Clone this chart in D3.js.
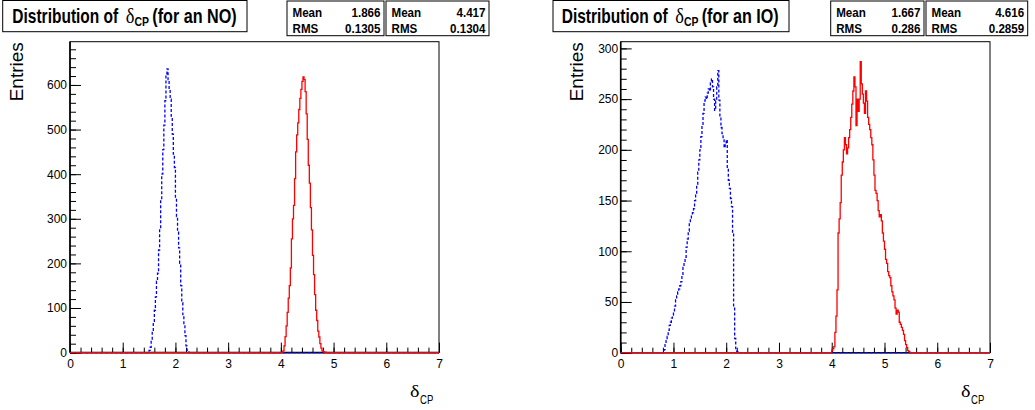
<!DOCTYPE html>
<html><head><meta charset="utf-8">
<script src="https://cdn.jsdelivr.net/npm/d3@7"></script>
<style>body{margin:0;background:#fff}svg{display:block}</style>
</head><body>
<svg id="c" width="1035" height="410"></svg>
<script>
const SANS = '"Liberation Sans", Arial, Helvetica, sans-serif';
const SERIF = '"Liberation Serif", "Times New Roman", serif';

// ---- data ----
const binWidth = 0.02;
const xDomain = [0, 7];
const xTicks = [0, 1, 2, 3, 4, 5, 6, 7];
const yTicksNO = [0, 100, 200, 300, 400, 500, 600];
const yTicksIO = [0, 50, 100, 150, 200, 250, 300];
const yMaxNO = 697;
const yMaxIO = 306.6;
const titleNO = ["Distribution of", "\u03b4", "CP", "(for an NO)"];
const titleIO = ["Distribution of", "\u03b4", "CP", "(for an IO)"];
const statLabels = ["Mean", "RMS"];
const statsNO = [["1.866", "0.1305"], ["4.417", "0.1304"]];
const statsIO = [["1.667", "0.286"], ["4.616", "0.2859"]];
const yLabel = "Entries";
const xLabel = ["\u03b4", "CP"];

const noBlueStart = 1.48;
const noBlue = [2,5,12,28,50,70,95,125,160,178,230,280,340,400,455,510,565,625,636,612,
  590,568,530,490,445,415,345,305,270,235,200,150,112,85,60,38,15,5,1];
const noRedStart = 4.02;
const noRed = [1,4,15,36,60,90,122,150,190,255,300,330,390,450,488,515,545,570,590,608,
  618,612,585,535,478,420,380,325,275,218,175,130,95,72,48,35,20,10,4,2,0,1];
const ioBlueStart = 0.80;
const ioBlue = [1,3,8,12,16,22,27,30,34,37,40,46,52,56,60,63,66,70,76,84,
  90,94,104,112,120,128,133,136,138,142,150,156,166,178,190,200,213,224,236,248,
  252,250,256,260,258,266,270,262,250,239,248,262,278,249,232,222,216,212,202,206,
  210,182,170,162,152,144,118,45,14,4,1];
const ioRedStart = 4.00;
const ioRed = [2,4,6,20,36,62,118,132,148,175,188,200,212,205,196,202,212,220,232,245,
  258,272,262,224,250,238,250,287,265,255,246,236,258,248,232,225,220,212,205,190,
  175,160,157,150,140,134,136,130,118,110,102,92,88,80,76,74,66,60,56,52,
  44,38,42,40,30,28,25,22,18,12,8,5,2,1];

// ---- layout ----
const panels = [
  {x0:70, x1:439, y0:352.6, y1:41.7, yMax:yMaxNO, yTicks:yTicksNO, yMinor:20,
   title:titleNO, stats:statsNO, blue:[noBlueStart, noBlue], red:[noRedStart, noRed],
   tbox:[2.7,0.5,244.3,31.2], tx:12.3, endW:84.5,
   sboxes:[[287,1,97,34.7],[386,1,103,34.7]], entX:23.3, xlabR:433.3, ypad:3},
  {x0:620.7, x1:990, y0:352.7, y1:41.7, yMax:yMaxIO, yTicks:yTicksIO, yMinor:10,
   title:titleIO, stats:statsIO, blue:[ioBlueStart, ioBlue], red:[ioRedStart, ioRed],
   tbox:[553,0.5,236,31.2], tx:561.7, endW:77,
   sboxes:[[830.7,1,93.3,34.7],[926,1,101.7,34.7]], entX:583, xlabR:984.3, ypad:2.5}
];

const svg = d3.select("#c");
svg.append("rect").attr("width",1035).attr("height",410).attr("fill","#fff");

function fitText(parent, x, y, str, width, o) {
  const g = parent.append("g");
  const t = g.append("text").attr("x",0).attr("y",0)
    .attr("font-family", o.family || SANS).attr("font-size", o.size)
    .attr("font-weight", o.weight || "normal").attr("text-anchor", o.anchor || "start")
    .text(str);
  let sx = 1;
  if (width) { const w = t.node().getComputedTextLength(); sx = width / w; }
  if (o.sx) sx = o.sx;
  g.attr("transform", `translate(${x},${y}) scale(${sx},1)`);
  return t;
}

function histPoints(start, vals) {
  const pts = [[xDomain[0], 0]];
  vals.forEach((v, i) => pts.push([start + i * binWidth, v]));
  pts.push([start + vals.length * binWidth, 0]);
  pts.push([xDomain[1], 0]);
  return pts;
}

panels.forEach(p => {
  const x = d3.scaleLinear().domain(xDomain).range([p.x0, p.x1]);
  const y = d3.scaleLinear().domain([0, p.yMax]).range([p.y0, p.y1]);
  const g = svg.append("g");

  g.append("rect").attr("x", p.x0).attr("y", p.y1).attr("width", p.x1 - p.x0)
    .attr("height", p.y0 - p.y1).attr("fill", "none").attr("stroke", "#000").attr("stroke-width", 1);

  const xMinor = d3.axisBottom(x).tickValues(d3.range(0, 7.0001, 0.2)).tickSize(-5).tickFormat("");
  const xMajor = d3.axisBottom(x).tickValues(xTicks).tickSize(-10).tickPadding(6.5).tickFormat(d3.format("d"));
  const yMinorAx = d3.axisLeft(y).tickValues(d3.range(0, p.yMax, p.yMinor)).tickSize(-6).tickFormat("");
  const yMajorAx = d3.axisLeft(y).tickValues(p.yTicks).tickSize(-11).tickPadding(p.ypad).tickFormat(d3.format("d"));
  [xMinor, xMajor].forEach(a => g.append("g").attr("transform", `translate(0,${p.y0})`).call(a));
  [yMinorAx, yMajorAx].forEach(a => g.append("g").attr("transform", `translate(${p.x0},0)`).call(a));
  g.selectAll(".domain").remove();
  g.selectAll(".tick line").attr("stroke", "#000").attr("stroke-width", 1);
  g.selectAll(".tick text").attr("font-family", SANS).attr("font-size", 12).attr("fill", "#000");

  g.append("line").attr("x1", p.x0).attr("x2", p.x0).attr("y1", p.y1).attr("y2", p.y0)
    .attr("stroke", "#000").attr("stroke-width", 1.6);
  g.append("line").attr("x1", p.x0).attr("x2", p.x1).attr("y1", p.y0).attr("y2", p.y0)
    .attr("stroke", "#000").attr("stroke-width", 1.6);

  const line = d3.line().x(d => x(d[0])).y(d => y(d[1])).curve(d3.curveStepAfter);
  g.append("path").attr("d", line(histPoints(p.blue[0], p.blue[1])))
    .attr("fill", "none").attr("stroke", "#0000ff").attr("stroke-width", 1.3)
    .attr("stroke-dasharray", "3,2");
  g.append("path").attr("d", line(histPoints(p.red[0], p.red[1])))
    .attr("fill", "none").attr("stroke", "#ff0000").attr("stroke-width", 1.3);

  // title box
  const [bx, by, bw, bh] = p.tbox;
  svg.append("rect").attr("x", bx).attr("y", by).attr("width", bw).attr("height", bh)
    .attr("fill", "#fff").attr("stroke", "#000").attr("stroke-width", 1);
  fitText(svg, p.tx, 22.7, p.title[0], 106, {size: 21, weight: "bold"});
  fitText(svg, p.tx + 113.5, 22.7, p.title[1], 8.7, {size: 20, family: SERIF});
  fitText(svg, p.tx + 122.3, 25.6, p.title[2], 14.5, {size: 13.5, weight: "bold"});
  fitText(svg, p.tx + 140, 22.7, p.title[3], p.endW, {size: 21, weight: "bold"});

  // stat boxes
  p.sboxes.forEach((b, i) => {
    svg.append("rect").attr("x", b[0]).attr("y", b[1]).attr("width", b[2]).attr("height", b[3])
      .attr("fill", "#fff").attr("stroke", "#000").attr("stroke-width", 1);
    statLabels.forEach((lab, j) => {
      const yy = j === 0 ? 16.7 : 32.6;
      fitText(svg, b[0] + 5.5, yy, lab, null, {size: 13.5, weight: "bold", sx: 0.86});
      fitText(svg, b[0] + b[2] - 3.5, yy, p.stats[i][j], null, {size: 13.5, weight: "bold", sx: 0.86, anchor: "end"});
    });
  });

  svg.append("text").attr("transform", `translate(${p.entX},${p.y1 + 0.5}) rotate(-90)`)
    .attr("text-anchor", "end").attr("font-family", SANS).attr("font-size", 19).text(yLabel);

  fitText(svg, p.xlabR - 23.3, 396.7, xLabel[0], 9.5, {size: 17, family: SERIF});
  fitText(svg, p.xlabR - 13.3, 404, xLabel[1], 13.3, {size: 12});
});
</script>
</body></html>
